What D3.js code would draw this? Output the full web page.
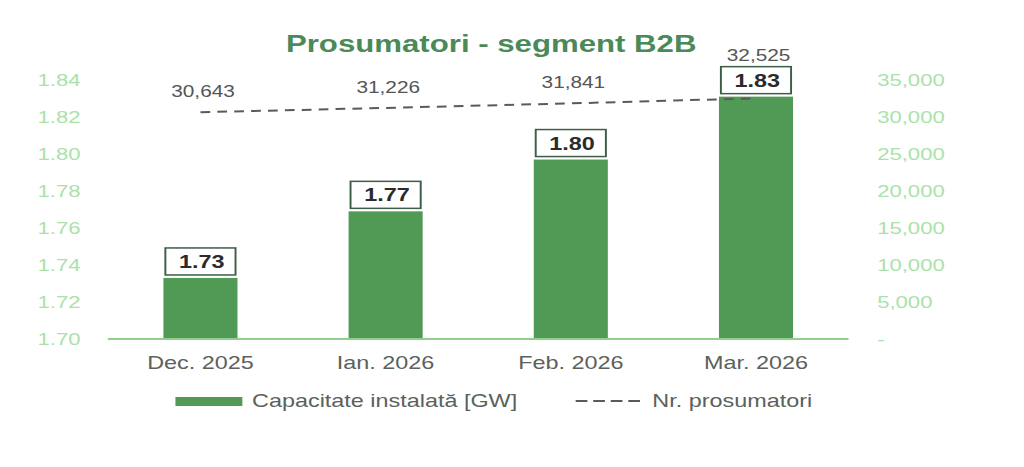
<!DOCTYPE html>
<html>
<head>
<meta charset="utf-8">
<script src="https://cdn.jsdelivr.net/npm/d3@7"></script>
<style>
  html, body { margin: 0; padding: 0; background: #fff; }
  svg { display: block; }
  text { font-family: "Liberation Sans", Arial, sans-serif; }
</style>
</head>
<body>
<svg id="chart"></svg>
<script>
// data
const months = ["Dec. 2025", "Ian. 2026", "Feb. 2026", "Mar. 2026"];
const capacity = [1.733, 1.769, 1.797, 1.831];          // GW
const prosumers = [30643, 31226, 31841, 32525];
const leftTicks = [1.70, 1.72, 1.74, 1.76, 1.78, 1.80, 1.82, 1.84];
const rightTicks = [0, 5000, 10000, 15000, 20000, 25000, 30000, 35000];

// the picture is stretched sideways, so draw narrow and stretch the viewBox
const width = 1024, height = 467;
const dw = 788;

const svg = d3.select("#chart")
  .attr("width", width).attr("height", height)
  .attr("viewBox", `0 0 ${dw} ${height}`)
  .attr("preserveAspectRatio", "none");

const x = d3.scaleBand().domain(months).range([83, 653]).paddingInner(0.6).paddingOuter(0.3);
const yL = d3.scaleLinear().domain([1.70, 1.84]).range([339, 80]);
const yR = d3.scaleLinear().domain([0, 35000]).range([339, 80]);

const green = "#519a55";
const axisGreen = "#a9e2a9";

// title
svg.append("text")
  .attr("x", 378).attr("y", 52)
  .attr("text-anchor", "middle")
  .attr("font-size", 24).attr("font-weight", "bold")
  .attr("fill", "#4a8a58")
  .text("Prosumatori - segment B2B");

// left axis
const left = svg.append("g")
  .attr("transform", "translate(62,0)")
  .call(d3.axisLeft(yL).tickValues(leftTicks).tickFormat(d3.format(".2f")).tickSize(0).tickPadding(0));
left.select(".domain").remove();
left.selectAll("text").attr("font-size", 17).attr("fill", axisGreen).attr("font-family", "Liberation Sans, Arial, sans-serif");

// right axis
const right = svg.append("g")
  .attr("transform", "translate(675,0)")
  .call(d3.axisRight(yR).tickValues(rightTicks)
    .tickFormat(d => d === 0 ? "-" : d3.format(",")(d)).tickSize(0).tickPadding(0));
right.select(".domain").remove();
right.selectAll("text").attr("font-size", 17).attr("fill", axisGreen).attr("font-family", "Liberation Sans, Arial, sans-serif");

// bars
svg.append("g").selectAll("rect")
  .data(capacity)
  .join("rect")
  .attr("x", (d, i) => x(months[i]))
  .attr("width", x.bandwidth())
  .attr("y", d => yL(d))
  .attr("height", d => yL(1.70) - yL(d))
  .attr("fill", green);

// baseline
svg.append("line")
  .attr("x1", 83).attr("x2", 653)
  .attr("y1", yL(1.70)).attr("y2", yL(1.70))
  .attr("stroke", "#8fd08f").attr("stroke-width", 2);

// category axis
const bottom = svg.append("g")
  .attr("transform", `translate(0,${yL(1.70)})`)
  .call(d3.axisBottom(x).tickSize(0).tickPadding(17));
bottom.select(".domain").remove();
bottom.selectAll("text").attr("font-size", 18).attr("fill", "#5b615b").attr("font-family", "Liberation Sans, Arial, sans-serif");

// bar value boxes
const boxW = 54, boxH = 27;
const boxes = svg.append("g").selectAll("g")
  .data(capacity)
  .join("g")
  .attr("transform", (d, i) => `translate(${x(months[i]) + x.bandwidth() / 2},${yL(d) - 3 - boxH})`);
boxes.append("rect")
  .attr("x", -boxW / 2).attr("width", boxW).attr("height", boxH)
  .attr("fill", "#fff").attr("stroke", "#3d5e46").attr("stroke-width", 1.5);
boxes.append("text")
  .attr("x", 1).attr("y", boxH / 2 + 6.5)
  .attr("text-anchor", "middle")
  .attr("font-size", 18).attr("font-weight", "bold").attr("fill", "#2b2b2b")
  .text(d => d.toFixed(2));

// prosumer line
const line = d3.line()
  .x((d, i) => x(months[i]) + x.bandwidth() / 2)
  .y(d => yR(d));
svg.append("path")
  .datum(prosumers)
  .attr("d", line)
  .attr("fill", "none")
  .attr("stroke", "#5a5a5a").attr("stroke-width", 2)
  .attr("stroke-dasharray", "7.5,5.5");

svg.append("g").selectAll("text")
  .data(prosumers)
  .join("text")
  .attr("x", (d, i) => x(months[i]) + x.bandwidth() / 2 + 2)
  .attr("y", (d, i) => Math.min(yR(d) - 15, yL(capacity[i]) - 3 - boxH - 6))
  .attr("text-anchor", "middle")
  .attr("font-size", 16).attr("fill", "#555")
  .text(d => d3.format(",")(d));

// legend
const lg = svg.append("g");
lg.append("rect")
  .attr("x", 135).attr("y", 397).attr("width", 51.5).attr("height", 9)
  .attr("fill", green);
lg.append("text")
  .attr("x", 194).attr("y", 407)
  .attr("font-size", 18).attr("fill", "#5b615b")
  .text("Capacitate instalată [GW]");
lg.append("line")
  .attr("x1", 443).attr("x2", 495).attr("y1", 401).attr("y2", 401)
  .attr("stroke", "#5a5a5a").attr("stroke-width", 2)
  .attr("stroke-dasharray", "9,4.5");
lg.append("text")
  .attr("x", 502).attr("y", 407)
  .attr("font-size", 18).attr("fill", "#5b615b")
  .text("Nr. prosumatori");
</script>
</body>
</html>
